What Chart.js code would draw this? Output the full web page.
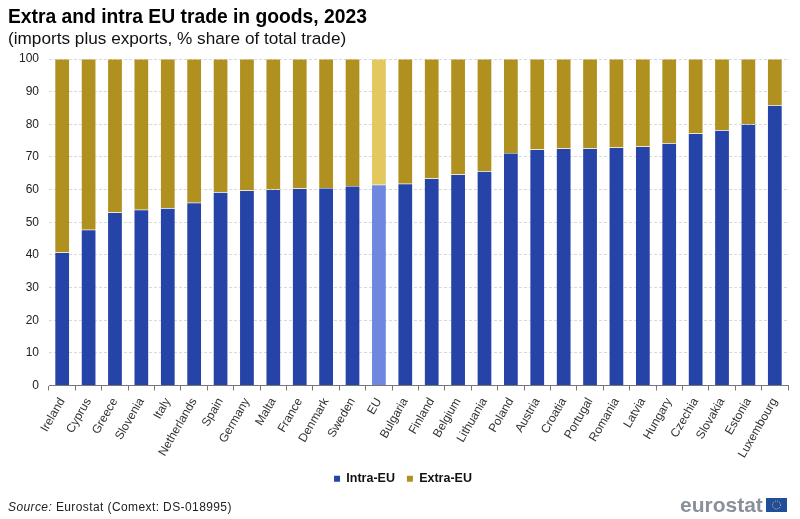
<!DOCTYPE html>
<html>
<head>
<meta charset="utf-8">
<title>Extra and intra EU trade in goods, 2023</title>
<script src="https://cdn.jsdelivr.net/npm/chart.js@4/dist/chart.umd.min.js"></script>
<style>
  html, body { margin: 0; padding: 0; background: #fff; }
  body { width: 800px; height: 519px; position: relative; overflow: hidden; font-family: "Liberation Sans", Arial, sans-serif; color: #000; }
  #chartWrap { position: absolute; left: 0; top: 0; width: 800px; height: 519px; }
  .txt { position: absolute; white-space: nowrap; }
  #title { left: 8px; top: 6px; font-size: 19.3px; font-weight: bold; }
  #subtitle { left: 8px; top: 28px; font-size: 17.2px; color: #111; }
  #source { left: 8px; top: 500px; font-size: 12px; color: #222; letter-spacing: 0.4px; }
  #logoText { left: 680px; top: 493px; font-size: 21px; font-weight: bold; color: #8a8f99; }
  #flag { position: absolute; left: 766px; top: 498px; }
</style>
</head>
<body>
<div id="chartWrap"><canvas id="tradeChart" width="800" height="519"></canvas></div>
<div class="txt" id="title">Extra and intra EU trade in goods, 2023</div>
<div class="txt" id="subtitle">(imports plus exports, % share of total trade)</div>
<div class="txt" id="source"><i>Source:</i> Eurostat (Comext: DS-018995)</div>
<div class="txt" id="logoText">eurostat</div>
<svg id="flag" width="21" height="14" viewBox="0 0 21 14">
  <rect width="21" height="14" fill="#1f4e9c"/>
  <circle cx="10.5" cy="7" r="4" fill="none" stroke="#e6c84a" stroke-width="1" stroke-dasharray="1 1.1"/>
</svg>
<script>
const categories = ['Ireland', 'Cyprus', 'Greece', 'Slovenia', 'Italy', 'Netherlands', 'Spain', 'Germany', 'Malta', 'France', 'Denmark', 'Sweden', 'EU', 'Bulgaria', 'Finland', 'Belgium', 'Lithuania', 'Poland', 'Austria', 'Croatia', 'Portugal', 'Romania', 'Latvia', 'Hungary', 'Czechia', 'Slovakia', 'Estonia', 'Luxembourg'];
const intraEU = [40.7, 47.7, 53.0, 53.8, 54.3, 56.0, 59.2, 59.7, 60.0, 60.3, 60.5, 61.1, 61.5, 61.8, 63.4, 64.6, 65.6, 71.2, 72.3, 72.6, 72.6, 72.9, 73.2, 74.2, 77.2, 78.2, 80.0, 85.8];
const extraEU = [59.3, 52.3, 47.0, 46.2, 45.7, 44.0, 40.8, 40.3, 40.0, 39.7, 39.5, 38.9, 38.5, 38.2, 36.6, 35.4, 34.4, 28.8, 27.7, 27.4, 27.4, 27.1, 26.8, 25.8, 22.8, 21.8, 20.0, 14.2];

const BLUE = '#2644a7', BLUE_EU = '#6f87df';
const GOLD = '#b09120', GOLD_EU = '#e2c85f';

new Chart(document.getElementById('tradeChart').getContext('2d'), {
  type: 'bar',
  data: {
    labels: categories,
    datasets: [
      {
        label: 'Intra-EU',
        data: intraEU,
        backgroundColor: categories.map(c => c === 'EU' ? BLUE_EU : BLUE),
        borderColor: 'rgba(255,255,255,0.35)',
        borderWidth: 0.5,
        barPercentage: 0.56,
        categoryPercentage: 1
      },
      {
        label: 'Extra-EU',
        data: extraEU,
        backgroundColor: categories.map(c => c === 'EU' ? GOLD_EU : GOLD),
        borderColor: 'rgba(255,255,255,0.35)',
        borderWidth: 0.5,
        barPercentage: 0.56,
        categoryPercentage: 1
      }
    ]
  },
  options: {
    responsive: false,
    animation: false,
    devicePixelRatio: 1,
    // left padding is traded against the y axis width so the legend centres where the reference has it
    layout: { padding: { top: 59, right: 12, bottom: 24, left: 18 } },
    scales: {
      x: {
        stacked: true,
        afterFit: s => { s.height = 75; },
        grid: {
          display: true,
          offset: true,
          drawOnChartArea: false,
          drawTicks: true,
          tickLength: 5,
          tickColor: '#777'
        },
        border: { color: '#777', display: true },
        ticks: {
          autoSkip: false,
          minRotation: 60,
          maxRotation: 60,
          color: '#333',
          padding: 5,
          font: { family: '"Liberation Sans", Arial, sans-serif', size: 12 }
        }
      },
      y: {
        stacked: true,
        min: 0,
        max: 100,
        afterFit: s => { s.width = 31; },
        grid: {
          color: '#d9d9d9',
          drawTicks: false
        },
        border: { display: false, dash: [3, 2] },
        ticks: {
          stepSize: 10,
          color: '#222',
          padding: 10,
          font: { family: '"Liberation Sans", Arial, sans-serif', size: 12 }
        }
      }
    },
    plugins: {
      title: { display: false },
      tooltip: { enabled: false },
      legend: {
        display: true,
        position: 'bottom',
        labels: {
          boxWidth: 6,
          boxHeight: 6,
          padding: 12,
          color: '#111',
          generateLabels: chart => chart.data.datasets.map((d, i) => ({
            text: d.label,
            fillStyle: i === 0 ? BLUE : GOLD,
            strokeStyle: 'transparent',
            lineWidth: 0,
            datasetIndex: i,
            fontColor: '#111'
          })),
          font: { family: '"Liberation Sans", Arial, sans-serif', size: 12.5, weight: 'bold' }
        }
      }
    }
  }
});
</script>
</body>
</html>
